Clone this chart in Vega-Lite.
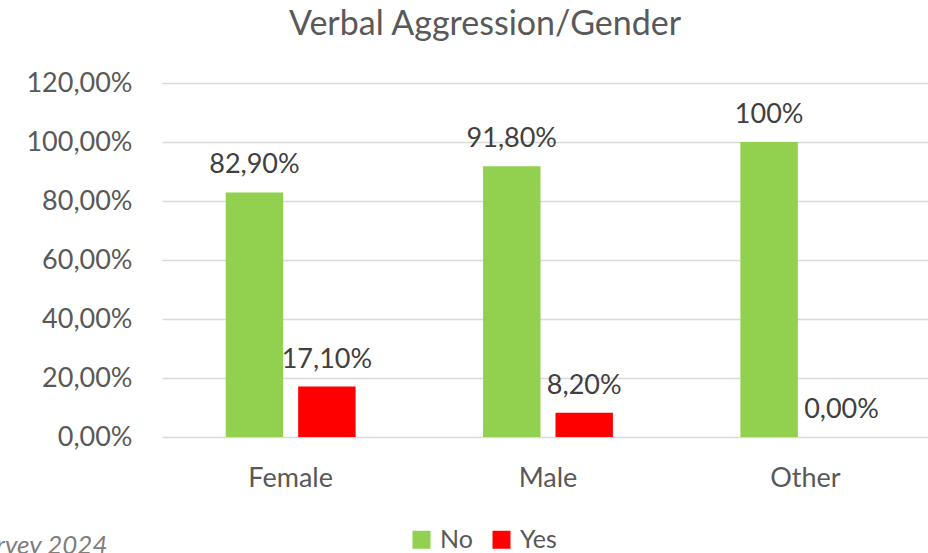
{
  "$schema": "https://vega.github.io/schema/vega-lite/v6.json",
  "width": 766,
  "height": 354,
  "autosize": {"type": "none"},
  "padding": {"left": 162, "top": 83, "right": 0, "bottom": 116},
  "background": "white",
  "config": {
    "locale": {"number": {"decimal": ",", "thousands": ".", "grouping": [3], "currency": ["", " €"]}},
    "view": {"stroke": null},
    "font": "Lato"
  },
  "title": {
    "text": "Verbal Aggression/Gender",
    "fontSize": 34,
    "font": "Lato",
    "fontWeight": "normal",
    "color": "#595959",
    "anchor": "middle",
    "dx": -60,
    "offset": 27
  },
  "data": {
    "values": [
      {"gender": "Female", "answer": "No", "value": 0.829, "label": "82,90%"},
      {"gender": "Female", "answer": "Yes", "value": 0.171, "label": "17,10%"},
      {"gender": "Male", "answer": "No", "value": 0.918, "label": "91,80%"},
      {"gender": "Male", "answer": "Yes", "value": 0.082, "label": "8,20%"},
      {"gender": "Other", "answer": "No", "value": 1.0, "label": "100%"},
      {"gender": "Other", "answer": "Yes", "value": 0.0, "label": "0,00%"}
    ]
  },
  "encoding": {
    "x": {
      "field": "gender",
      "type": "nominal",
      "sort": ["Female", "Male", "Other"],
      "scale": {"range": [0, 772], "paddingInner": 0, "paddingOuter": 0},
      "axis": {
        "title": "Survey 2024",
        "titleFontSize": 26,
        "titleFontStyle": "italic",
        "titleFontWeight": "normal",
        "titleColor": "#7f7f7f",
        "titleAlign": "right",
        "titleAnchor": null,
        "titleBaseline": "alphabetic",
        "titleX": -55,
        "titleY": 116,
        "labelAngle": 0,
        "labelFontSize": 27,
        "labelColor": "#595959",
        "labelPadding": 28,
        "ticks": false,
        "domain": false
      }
    },
    "xOffset": {
      "field": "answer",
      "type": "nominal",
      "scale": {"paddingInner": 0.207, "paddingOuter": 0.88}
    },
    "y": {
      "field": "value",
      "type": "quantitative",
      "scale": {"domain": [0, 1.2], "nice": false},
      "axis": {
        "title": null,
        "values": [0, 0.2, 0.4, 0.6, 0.8, 1.0, 1.2],
        "format": ".2%",
        "labelFontSize": 27,
        "labelColor": "#595959",
        "labelPadding": 30,
        "domain": false,
        "ticks": false,
        "gridColor": "#d9d9d9",
        "gridWidth": 1.5
      }
    }
  },
  "layer": [
    {
      "mark": {"type": "bar"},
      "encoding": {
        "color": {
          "field": "answer",
          "type": "nominal",
          "scale": {"domain": ["No", "Yes"], "range": ["#92D050", "#FF0000"]},
          "legend": {
            "title": null,
            "orient": "none",
            "direction": "horizontal",
            "legendX": 247,
            "legendY": 444,
            "symbolType": "square",
            "symbolSize": 324,
            "symbolStrokeWidth": 0,
            "labelFontSize": 25,
            "labelColor": "#595959",
            "labelOffset": 6,
            "columnPadding": 16
          }
        }
      }
    },
    {
      "mark": {"type": "text", "baseline": "bottom", "dy": -13, "fontSize": 27, "color": "#404040"},
      "encoding": {
        "text": {"field": "label", "type": "nominal"}
      }
    }
  ]
}
